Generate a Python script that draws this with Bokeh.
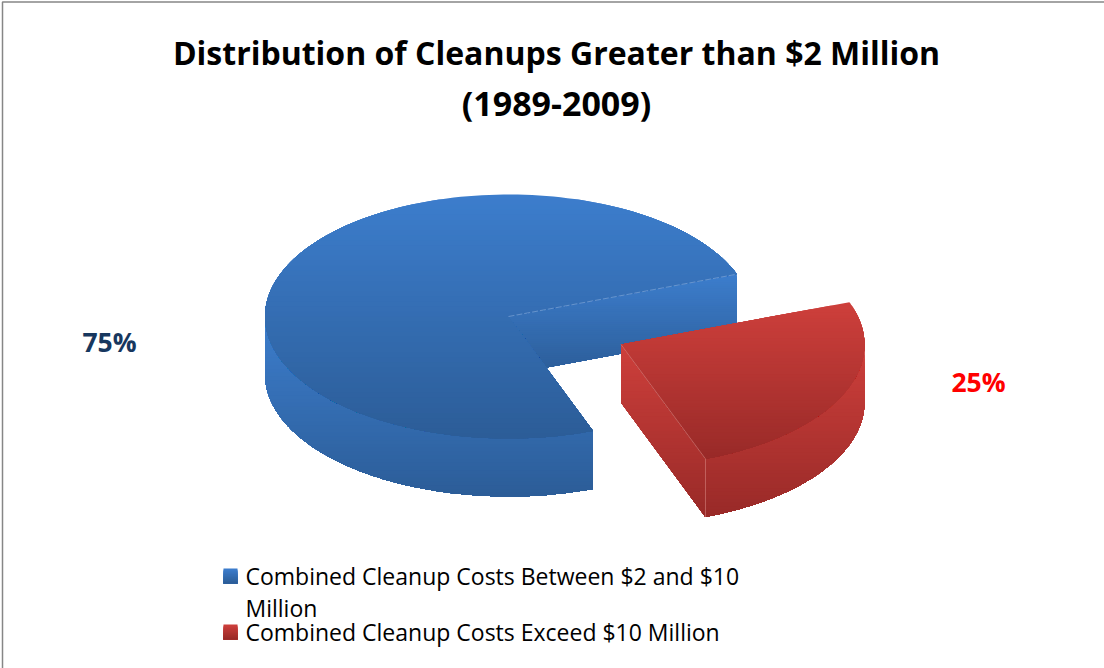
import math
from bokeh.plotting import figure
from bokeh.models import Range1d
from bokeh.core.properties import value
from bokeh.embed import file_html
from bokeh.resources import INLINE

title_lines = ["Distribution of Cleanups Greater than $2 Million", "(1989-2009)"]
categories = ["Combined Cleanup Costs Between $2 and $10\nMillion", "Combined Cleanup Costs Exceed $10 Million"]
shares = [75, 25]
share_labels = ["75%", "25%"]
start_angle = 20.3

W, H = 1104, 668
FONT = value("Open Sans")
BLUE = ((60, 125, 204), (44, 93, 152))
RED = ((205, 63, 59), (153, 42, 40))

p = figure(width=W, height=H, x_range=Range1d(0, W), y_range=Range1d(H, 0),
           output_backend="svg", toolbar_location=None, min_border=0,
           outline_line_color=None, background_fill_color="white", border_fill_color="white")
p.axis.visible = False
p.grid.visible = False


def clip(pts, y):
    out = []
    for i, a in enumerate(pts):
        b = pts[(i + 1) % len(pts)]
        if a[1] >= y:
            out.append(a)
        if (a[1] >= y) != (b[1] >= y):
            t = (y - a[1]) / (b[1] - a[1])
            out.append((a[0] + t * (b[0] - a[0]), y))
    return out


def grad(pts, y0, y1, cols, n=48):
    xs, ys, fills = [], [], []
    for k in range(n):
        t = k / (n - 1)
        c = [round(cols[0][i] + t * (cols[1][i] - cols[0][i])) for i in range(3)]
        q = clip(pts, y0 + (y1 - y0) * k / n) if k else pts
        if len(q) < 3:
            continue
        xs.append([a[0] for a in q])
        ys.append([a[1] for a in q])
        fills.append("#%02x%02x%02x" % tuple(c))
    p.patches(xs, ys, fill_color=fills, line_color=None)


def arc(cx, cy, a0, a1, rx=243.5, ry=122, n=160):
    return [(cx + rx * math.cos(math.radians(a0 + (a1 - a0) * i / n)),
             cy - ry * math.sin(math.radians(a0 + (a1 - a0) * i / n))) for i in range(n + 1)]


D = 58
sweep = [s / sum(shares) * 360 for s in shares]
a_blue = (start_angle, start_angle + sweep[0])
a_red = (a_blue[1], a_blue[1] + sweep[1])

# Blue slice
bx, by = 508, 316
e0 = arc(bx, by, a_blue[0], a_blue[0], n=1)[0]
wall = [(bx, by), e0, (e0[0], e0[1] + D), (bx, by + D)]
grad(wall, e0[1], by + D, BLUE)
side = arc(bx, by, 180, a_blue[1])
side_pts = side + [(x, y + D) for x, y in reversed(side)]
grad(side_pts, by, by + 122 + D, BLUE)
top = [(bx, by)] + arc(bx, by, a_blue[0], a_blue[1])
grad(top, by - 122, by + 122, BLUE)
p.line([bx, e0[0]], [by, e0[1]], line_color="#8fb2de", line_width=0.7, line_dash="6 2", line_alpha=0.8)

# Red slice
rx0, ry0 = 620.5, 344
f0 = arc(rx0, ry0, a_red[0], a_red[0], n=1)[0]
side_l = [(rx0, ry0), f0, (f0[0], f0[1] + D), (rx0, ry0 + D)]
grad(side_l, ry0, f0[1] + D, RED)
s2 = arc(rx0, ry0, a_red[0], 360)
s2_pts = s2 + [(x, y + D) for x, y in reversed(s2)]
grad(s2_pts, ry0, f0[1] + D, RED)
top_r = [(rx0, ry0)] + arc(rx0, ry0, a_red[0], a_red[1])
grad(top_r, ry0 - 42, f0[1], RED)
p.line([rx0, f0[0], f0[0]], [ry0, f0[1], f0[1] + D], line_color="#d98a87", line_width=0.7, line_alpha=0.8)

# Texts
p.text([556], [52], text=title_lines[:1], text_font=FONT, text_font_style="bold",
       text_font_size="32px", text_color="black", text_align="center", text_baseline="middle")
p.text([556], [102.5], text=title_lines[1:], text_font=FONT, text_font_style="bold",
       text_font_size="34px", text_color="black", text_align="center", text_baseline="middle")
p.text([109, 978], [341, 381], text=share_labels, text_font=FONT, text_font_style="bold",
       text_font_size="26.5px", text_color=["#17375e", "#ff0000"], text_align="center", text_baseline="middle")
leg = categories[0].split("\n") + [categories[1]]
p.text([245, 245, 245], [575, 607, 631], text=leg, text_font=FONT, text_font_size="23px",
       text_color="black", text_align="left", text_baseline="middle")

# Legend keys
for y, cols in ((568, BLUE), (624, RED)):
    grad([(223, y), (237, y), (237, y + 15), (223, y + 15)], y, y + 15, cols, n=12)

# Frame
p.line([2, 2, 1104], [668, 1.5, 1.5], line_color="#868686", line_width=1.5)

open("out.html", "w").write(file_html(p, INLINE))
